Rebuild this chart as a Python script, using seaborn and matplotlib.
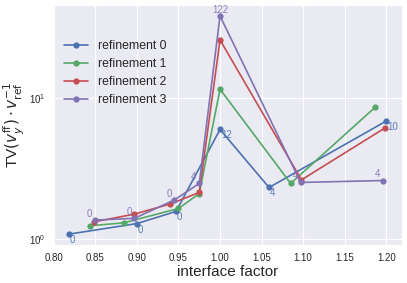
import numpy as np
import pandas as pd
import seaborn as sns
import matplotlib
matplotlib.use("Agg")
import matplotlib.pyplot as plt

# values
x_ref0 = [0.818, 0.900, 0.947, 1.000, 1.059, 1.200]
y_ref0 = [1.08, 1.285, 1.567, 6.0, 2.32, 6.89]
lab_ref0 = ["0", "0", "0", "12", "4", "10"]

x_ref1 = [0.844, 0.884, 0.950, 0.975, 1.000, 1.085, 1.187]
y_ref1 = [1.24, 1.30, 1.645, 2.10, 11.6, 2.48, 8.67]

x_ref2 = [0.848, 0.897, 0.940, 0.975, 1.000, 1.098, 1.199]
y_ref2 = [1.32, 1.50, 1.77, 2.14, 26.0, 2.63, 6.18]

x_ref3 = [0.849, 0.897, 0.945, 0.975, 1.000, 1.097, 1.196]
y_ref3 = [1.36, 1.40, 1.89, 2.48, 38.5, 2.52, 2.60]
lab_ref3 = ["0", "0", "0", "4", "122", "4", "4"]

colors = ["#4C72B0", "#55A868", "#C44E52", "#8172B2"]

frames = []
for i, (xs, ys) in enumerate([(x_ref0, y_ref0), (x_ref1, y_ref1),
                              (x_ref2, y_ref2), (x_ref3, y_ref3)]):
    frames.append(pd.DataFrame({"factor": xs, "tv": ys,
                                "refinement": f"refinement {i}"}))
df = pd.concat(frames, ignore_index=True)

sns.set_style("darkgrid")
plt.rcParams['font.family'] = ['Liberation Sans', 'DejaVu Sans']

fig, ax = plt.subplots(figsize=(4.07, 2.83), dpi=100)
sns.lineplot(data=df, x="factor", y="tv", hue="refinement", palette=colors,
             marker="o", markersize=4.5, markeredgewidth=0, linewidth=1.2,
             ax=ax)
ax.set_yscale("log")
ax.minorticks_off()
ax.set_yticks([1, 10])
ax.set_xticks(np.arange(0.80, 1.201, 0.05))
ax.tick_params(labelsize=7, pad=2)

# point labels
for xv, yv, t in zip(x_ref0, y_ref0, lab_ref0):
    ax.annotate(t, (xv, yv), xytext=(1, -6), textcoords="offset pixels",
                ha="left", va="center", fontsize=7, color=colors[0], alpha=0.9)
for xv, yv, t in zip(x_ref3, y_ref3, lab_ref3):
    ax.annotate(t, (xv, yv), xytext=(-8, 6.5), textcoords="offset pixels",
                ha="left", va="center", fontsize=7, color=colors[3], alpha=0.9)

ax.set_xlabel("interface factor", fontsize=11, labelpad=2)
ax.set_ylabel(r"TV$(v_y^{\mathrm{ff}}) \cdot v_{\mathrm{ref}}^{-1}$",
              fontsize=11, labelpad=1)
ax.legend(loc="upper left", bbox_to_anchor=(0, 0.90), frameon=False,
          fontsize=8.8, handlelength=2.0)

fig.subplots_adjust(left=0.13, right=0.988, top=0.982, bottom=0.134)
fig.savefig("out.png", dpi=100)
